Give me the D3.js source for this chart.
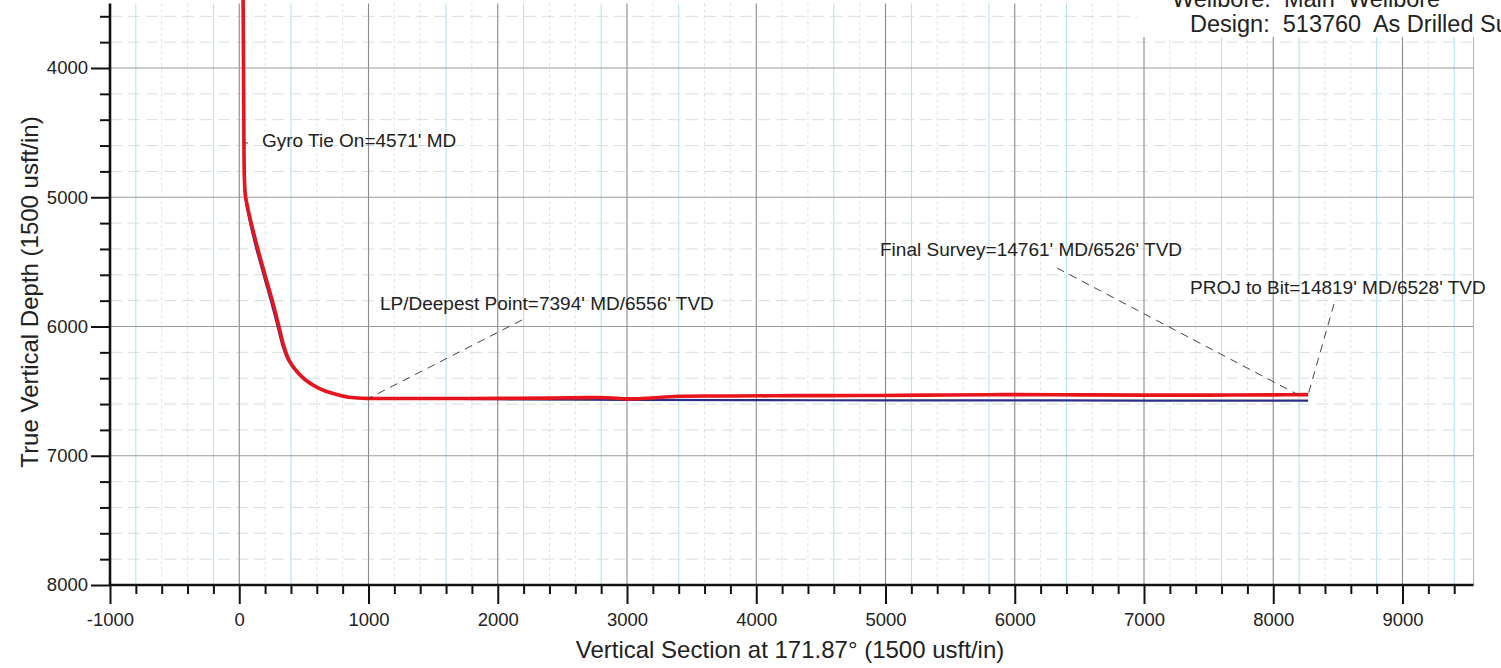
<!DOCTYPE html>
<html>
<head>
<meta charset="utf-8">
<script src="https://cdn.jsdelivr.net/npm/d3@7"></script>
<style>
  html, body { margin: 0; padding: 0; background: #fff; }
  svg { display: block; }
  text { font-family: "Liberation Sans", Arial, Helvetica, sans-serif; fill: #222; }
</style>
</head>
<body>
<svg id="chart" width="1501" height="668"></svg>
<script>
// ---------------- DATA ----------------
// Actual survey (red): vertical section (usft) vs true vertical depth (usft)
const actualVS  = [30, 33, 36, 40, 49, 75, 139, 203, 268, 307, 346, 385, 436, 513, 617, 720, 849, 978,
                   1200, 1600, 2000, 2400, 2700, 2850, 3000, 3150, 3400, 3800, 4300, 4800, 5300, 5800,
                   6000, 6500, 7000, 7500, 8000, 8270];
const actualTVD = [3470, 4000, 4500, 4860, 4995, 5124, 5382, 5614, 5846, 6001, 6156, 6259, 6336, 6414, 6478, 6517, 6548, 6556,
                   6557, 6557, 6556, 6554, 6550, 6551, 6560, 6555, 6540, 6538, 6535, 6534, 6531, 6528,
                   6527, 6529, 6531, 6531, 6529, 6527];
// Plan (blue)
const planVS  = [29, 32, 35, 39, 46, 68, 128, 192, 257, 297, 337, 377, 430, 508, 613, 718, 848, 978,
                 1500, 2000, 3000, 4000, 5000, 6000, 7000, 8270];
const planTVD = [3470, 4000, 4500, 4860, 4995, 5124, 5382, 5614, 5846, 6001, 6156, 6259, 6336, 6414, 6478, 6517, 6548, 6556,
                 6560, 6563, 6568, 6570, 6571, 6572, 6573, 6574];

// Axis ticks
const xMajorTicks = [-1000, 0, 1000, 2000, 3000, 4000, 5000, 6000, 7000, 8000, 9000];
const yMajorTicks = [4000, 5000, 6000, 7000, 8000];

// Annotations: label text and the survey point each one refers to
const annLabels = ["Gyro Tie On=4571' MD",
                   "LP/Deepest Point=7394' MD/6556' TVD",
                   "Final Survey=14761' MD/6526' TVD",
                   "PROJ to Bit=14819' MD/6528' TVD"];
const annVS  = [42, 1000, 8190, 8270];
const annTVD = [4580, 6556, 6527, 6527];

const titleLines = ["Wellbore:  Main  Wellbore", "Design:  513760  As Drilled Survey"];
const xTitle = "Vertical Section at 171.87\u00B0 (1500 usft/in)";
const yTitle = "True Vertical Depth (1500 usft/in)";

// ---------------- SCALES ----------------
const x = d3.scaleLinear().domain([-1000, 9550]).range([110, 1473.6]);
const y = d3.scaleLinear().domain([4000, 8000]).range([68, 585]);
const xMin = -1000, xMax = 9550, yTop = 3500, yBot = 8000;

const svg = d3.select("#chart");

// ---------------- GRID ----------------
const grid = svg.append("g");
const xMinor = d3.range(-800, 9551, 200).filter(v => v % 1000 !== 0);
const yMinor = d3.range(3600, 8000, 200).filter(v => v % 1000 !== 0);
const isCyan = v => ((v + 800) % 600 === 0);

grid.selectAll(".vmin").data(xMinor).join("line")
  .attr("x1", d => x(d)).attr("x2", d => x(d))
  .attr("y1", y(yTop)).attr("y2", y(yBot))
  .attr("stroke", d => isCyan(d) ? "#b3e1ea" : "#dde2e4")
  .attr("stroke-width", 1)
  .attr("stroke-dasharray", d => isCyan(d) ? null : "3,3");

grid.selectAll(".hmin").data(yMinor).join("line")
  .attr("x1", x(xMin)).attr("x2", x(xMax))
  .attr("y1", d => y(d)).attr("y2", d => y(d))
  .attr("stroke", "#d3dfe2")
  .attr("stroke-width", 1)
  .attr("stroke-dasharray", "12,6");

grid.selectAll(".vmaj").data(xMajorTicks.filter(v => v > xMin)).join("line")
  .attr("x1", d => x(d)).attr("x2", d => x(d))
  .attr("y1", y(yTop)).attr("y2", y(yBot))
  .attr("stroke", "#8a8a8a").attr("stroke-width", 1.1);

grid.selectAll(".hmaj").data(yMajorTicks.filter(v => v < yBot)).join("line")
  .attr("x1", x(xMin)).attr("x2", x(xMax))
  .attr("y1", d => y(d)).attr("y2", d => y(d))
  .attr("stroke", "#9a9a9a").attr("stroke-width", 1.1);

// right border
grid.append("line")
  .attr("x1", x(xMax)).attr("x2", x(xMax))
  .attr("y1", y(yTop)).attr("y2", y(yBot))
  .attr("stroke", "#b0b0b0").attr("stroke-width", 1);

// ---------------- LINES ----------------
const line = d3.line().x(d => x(d[0])).y(d => y(d[1])).curve(d3.curveCatmullRom.alpha(0.5));
const planPts = planVS.map((v, i) => [v, planTVD[i]]);
const actPts = actualVS.map((v, i) => [v, actualTVD[i]]);

svg.append("path").attr("d", line(planPts))
  .attr("fill", "none").attr("stroke", "#2a2e8c").attr("stroke-width", 2.2);
svg.append("path").attr("d", line(actPts))
  .attr("fill", "none").attr("stroke", "#e8141c").attr("stroke-width", 3.6)
  .attr("stroke-linejoin", "round");

// ---------------- AXES ----------------
const fmt = d => String(d);
const axX = svg.append("g").attr("transform", `translate(0,${y(yBot)})`);
axX.call(d3.axisBottom(x).tickValues(xMinor).tickSize(9).tickFormat(""));
axX.call(g => g.select(".domain").remove());
const axXMaj = svg.append("g").attr("transform", `translate(0,${y(yBot)})`);
axXMaj.call(d3.axisBottom(x).tickValues(xMajorTicks).tickSize(19).tickFormat(fmt).tickPadding(9));
axXMaj.call(g => g.select(".domain").remove());
axXMaj.selectAll(".tick text").attr("font-size", 18.5).attr("fill", "#222")
  .style("font-family", "'Liberation Sans', Arial, sans-serif");

const axY = svg.append("g").attr("transform", `translate(${x(xMin)},0)`);
axY.call(d3.axisLeft(y).tickValues(yMinor).tickSize(10).tickFormat(""));
axY.call(g => g.select(".domain").remove());
const axYMaj = svg.append("g").attr("transform", `translate(${x(xMin)},0)`);
axYMaj.call(d3.axisLeft(y).tickValues(yMajorTicks).tickSize(19).tickFormat(fmt).tickPadding(3));
axYMaj.call(g => g.select(".domain").remove());
axYMaj.selectAll(".tick text").attr("font-size", 18.5).attr("fill", "#222")
  .style("font-family", "'Liberation Sans', Arial, sans-serif");
svg.selectAll(".tick line").attr("stroke", "#111").attr("stroke-width", 2);

// axis lines
svg.append("line").attr("x1", x(xMin)).attr("x2", x(xMax)).attr("y1", y(yBot)).attr("y2", y(yBot))
  .attr("stroke", "#111").attr("stroke-width", 2.6);
svg.append("line").attr("x1", x(xMin)).attr("x2", x(xMin)).attr("y1", y(yTop)).attr("y2", y(yBot))
  .attr("stroke", "#111").attr("stroke-width", 2.6);

// ---------------- ANNOTATIONS ----------------
const labelPos = [[262, 147], [380, 310], [880, 256], [1190, 294]];
const leaderFrom = [[248, 143], [522, 320], [1057, 268], [1334, 304]];
const ann = svg.append("g");
annLabels.forEach((t, i) => {
  const px = x(annVS[i]), py = y(annTVD[i]);
  ann.append("line")
    .attr("x1", leaderFrom[i][0]).attr("y1", leaderFrom[i][1])
    .attr("x2", px).attr("y2", py)
    .attr("stroke", "#444").attr("stroke-width", 1)
    .attr("stroke-dasharray", i === 0 ? null : "8,6");
  ann.append("text").attr("x", labelPos[i][0]).attr("y", labelPos[i][1])
    .attr("font-size", 19).text(t);
});

// ---------------- TITLES ----------------
svg.append("rect").attr("x", 1137).attr("y", 0).attr("width", 364).attr("height", 37).attr("fill", "#fff");
svg.append("text").attr("x", 1172).attr("y", 7).attr("font-size", 23.5)
  .style("white-space", "pre").text(titleLines[0]);
svg.append("text").attr("x", 1190).attr("y", 32).attr("font-size", 23.5)
  .style("white-space", "pre").text(titleLines[1]);

svg.append("text").attr("x", 790).attr("y", 658).attr("text-anchor", "middle")
  .attr("font-size", 24).text(xTitle);
svg.append("text").attr("transform", "translate(38,292) rotate(-90)").attr("text-anchor", "middle")
  .attr("font-size", 24).text(yTitle);
</script>
</body>
</html>
